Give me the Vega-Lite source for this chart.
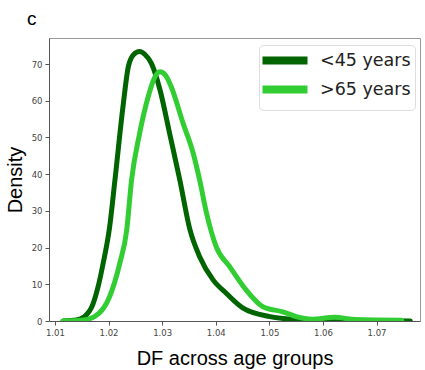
{
  "$schema": "https://vega.github.io/schema/vega-lite/v6.json",
  "width": 371,
  "height": 283,
  "autosize": {"type": "none"},
  "padding": {"left": 49, "top": 38, "right": 5, "bottom": 49},
  "background": "white",
  "title": {"text": "c", "anchor": "start", "frame": "group", "dx": -22, "offset": 9, "fontSize": 19, "font": "Liberation Sans", "fontWeight": "normal", "color": "#000"},
  "config": {
    "view": {"stroke": "#999", "strokeWidth": 1},
    "axis": {"grid": false, "domainColor": "#555", "tickColor": "#555", "labelColor": "#444", "labelFont": "DejaVu Sans", "labelFontSize": 8.5, "titleFont": "Liberation Sans", "titleFontSize": 20, "titleFontWeight": "normal", "titleColor": "#000", "tickSize": 4}
  },
  "data": {"values": [
    {"df": 1.0115, "density": 0, "group": "<45 years"},
    {"df": 1.014, "density": 0.3, "group": "<45 years"},
    {"df": 1.0155, "density": 1.2, "group": "<45 years"},
    {"df": 1.0171, "density": 4.6, "group": "<45 years"},
    {"df": 1.018, "density": 9, "group": "<45 years"},
    {"df": 1.019, "density": 15.7, "group": "<45 years"},
    {"df": 1.0202, "density": 25.5, "group": "<45 years"},
    {"df": 1.0212, "density": 38.4, "group": "<45 years"},
    {"df": 1.0227, "density": 58.4, "group": "<45 years"},
    {"df": 1.0237, "density": 69.3, "group": "<45 years"},
    {"df": 1.0247, "density": 72.6, "group": "<45 years"},
    {"df": 1.0258, "density": 73.4, "group": "<45 years"},
    {"df": 1.0268, "density": 72.6, "group": "<45 years"},
    {"df": 1.028, "density": 70.2, "group": "<45 years"},
    {"df": 1.0296, "density": 63, "group": "<45 years"},
    {"df": 1.0314, "density": 51.1, "group": "<45 years"},
    {"df": 1.0333, "density": 38.4, "group": "<45 years"},
    {"df": 1.0352, "density": 24.8, "group": "<45 years"},
    {"df": 1.037, "density": 17.5, "group": "<45 years"},
    {"df": 1.0395, "density": 11.2, "group": "<45 years"},
    {"df": 1.042, "density": 7.5, "group": "<45 years"},
    {"df": 1.0451, "density": 3.5, "group": "<45 years"},
    {"df": 1.0501, "density": 1.2, "group": "<45 years"},
    {"df": 1.0538, "density": 0.5, "group": "<45 years"},
    {"df": 1.056, "density": 0.2, "group": "<45 years"},
    {"df": 1.06, "density": 0.1, "group": "<45 years"},
    {"df": 1.07, "density": 0.05, "group": "<45 years"},
    {"df": 1.0763, "density": 0, "group": "<45 years"},
    {"df": 1.0115, "density": 0, "group": ">65 years"},
    {"df": 1.015, "density": 0.2, "group": ">65 years"},
    {"df": 1.0174, "density": 1.2, "group": ">65 years"},
    {"df": 1.0202, "density": 6.6, "group": ">65 years"},
    {"df": 1.0221, "density": 15.7, "group": ">65 years"},
    {"df": 1.0234, "density": 24.8, "group": ">65 years"},
    {"df": 1.0243, "density": 38.4, "group": ">65 years"},
    {"df": 1.0258, "density": 51.1, "group": ">65 years"},
    {"df": 1.0274, "density": 61.1, "group": ">65 years"},
    {"df": 1.0285, "density": 66, "group": ">65 years"},
    {"df": 1.0296, "density": 67.9, "group": ">65 years"},
    {"df": 1.0307, "density": 66.8, "group": ">65 years"},
    {"df": 1.0317, "density": 63.8, "group": ">65 years"},
    {"df": 1.0339, "density": 53.9, "group": ">65 years"},
    {"df": 1.0358, "density": 45.7, "group": ">65 years"},
    {"df": 1.037, "density": 38.4, "group": ">65 years"},
    {"df": 1.0383, "density": 29.3, "group": ">65 years"},
    {"df": 1.0401, "density": 20.2, "group": ">65 years"},
    {"df": 1.0426, "density": 14.8, "group": ">65 years"},
    {"df": 1.0457, "density": 8.4, "group": ">65 years"},
    {"df": 1.0488, "density": 3.9, "group": ">65 years"},
    {"df": 1.0525, "density": 2.5, "group": ">65 years"},
    {"df": 1.055, "density": 1.2, "group": ">65 years"},
    {"df": 1.058, "density": 0.5, "group": ">65 years"},
    {"df": 1.0622, "density": 1.0, "group": ">65 years"},
    {"df": 1.066, "density": 0.4, "group": ">65 years"},
    {"df": 1.0747, "density": 0.2, "group": ">65 years"}
  ]},
  "mark": {"type": "line", "interpolate": "monotone", "strokeWidth": 5, "strokeCap": "round", "strokeJoin": "round", "clip": true},
  "encoding": {
    "x": {"field": "df", "type": "quantitative", "scale": {"domain": [1.0089, 1.0781], "nice": false, "zero": false},
      "axis": {"values": [1.01, 1.02, 1.03, 1.04, 1.05, 1.06, 1.07], "format": ".2f", "title": "DF across age groups", "titlePadding": 12, "labelPadding": 3}},
    "y": {"field": "density", "type": "quantitative", "scale": {"domain": [0, 77.1], "nice": false},
      "axis": {"values": [0, 10, 20, 30, 40, 50, 60, 70], "title": "Density", "titlePadding": 6, "labelPadding": 3}},
    "color": {"field": "group", "type": "nominal",
      "scale": {"domain": ["<45 years", ">65 years"], "range": ["#006400", "#32CD32"]},
      "legend": {"title": null, "orient": "none", "legendX": 210, "legendY": 7, "symbolType": "M-1.6,0H4.4", "symbolSize": 225, "symbolStrokeWidth": 8, "symbolOpacity": 1, "labelFont": "DejaVu Sans", "labelFontSize": 17.5, "labelColor": "#222", "rowPadding": -4, "strokeColor": "#ddd", "fillColor": "white", "cornerRadius": 4, "padding": 4, "labelOffset": 34}}
  }
}
